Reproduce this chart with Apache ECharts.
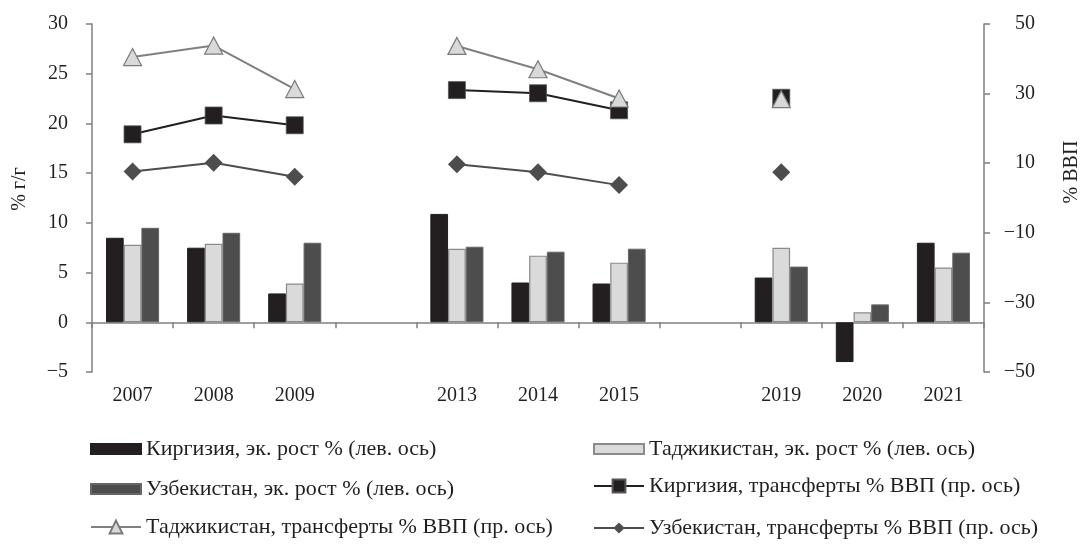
<!DOCTYPE html>
<html>
<head>
<meta charset="utf-8">
<script src="https://cdn.jsdelivr.net/npm/echarts@6/dist/echarts.min.js"></script>
<style>html,body{margin:0;padding:0;background:#fff}#c{width:1087px;height:549px}</style>
</head>
<body>
<div id="c"></div>
<script>
// Categories (empty strings are gaps between periods)
const categories = ['2007', '2008', '2009', '', '2013', '2014', '2015', '', '2019', '2020', '2021'];

// Economic growth, % y/y (left axis)
const kgGrowth = [8.5, 7.5, 2.9, null, 10.9, 4.0, 3.9, null, 4.5, -4.0, 8.0];
const tjGrowth = [7.8, 7.9, 3.9, null, 7.4, 6.7, 6.0, null, 7.5, 1.0, 5.5];
const uzGrowth = [9.5, 9.0, 8.0, null, 7.6, 7.1, 7.4, null, 5.6, 1.8, 7.0];

// Remittances, % of GDP (right axis)
const kgRemit = [18.3, 23.7, 20.9, null, 31.0, 30.1, 25.2, null, 28.8, null, null];
const tjRemit = [40.5, 43.8, 31.3, null, 43.7, 37.0, 28.6, null, 28.4, null, null];
const uzRemit = [7.6, 10.1, 6.1, null, 9.7, 7.4, 3.7, null, 7.4, null, null];

// Series names
const nKgG = 'Киргизия, эк. рост % (лев. ось)';
const nTjG = 'Таджикистан, эк. рост % (лев. ось)';
const nUzG = 'Узбекистан, эк. рост % (лев. ось)';
const nKgR = 'Киргизия, трансферты % ВВП (пр. ось)';
const nTjR = 'Таджикистан, трансферты % ВВП (пр. ось)';
const nUzR = 'Узбекистан, трансферты % ВВП (пр. ось)';

const leftAxisName = '% г/г';
const rightAxisName = '% ВВП';

const FONT = 'Liberation Serif';
const TXT = '#231f20';
const AX = '#808080';
const minus = v => String(v).replace('-', '\u2212');

const chart = echarts.init(document.getElementById('c'));

function leg(name, left, top, h, icon) {
  const l = {
    data: [name], left: left, top: top, orient: 'horizontal', padding: 0,
    itemWidth: 50, itemHeight: h, selectedMode: false,
    textStyle: { fontFamily: FONT, fontSize: 22, color: TXT }
  };
  if (icon) l.icon = icon;
  return l;
}

chart.setOption({
  animation: false,
  textStyle: { fontFamily: FONT, color: TXT },
  grid: { left: 92, right: 103, top: 24, bottom: 177, containLabel: false },
  legend: [
    leg(nKgG, 90, 438, 10, 'rect'),
    leg(nTjG, 593, 438, 10, 'rect'),
    leg(nUzG, 90, 478, 10, 'rect'),
    leg(nKgR, 593, 475, 16),
    leg(nTjR, 90, 516, 16),
    leg(nUzR, 593, 517, 14)
  ],
  graphic: [
    { type: 'text', x: 20, y: 189, rotation: Math.PI / 2,
      style: { text: leftAxisName, font: '20px "Liberation Serif"', fill: TXT, align: 'center', verticalAlign: 'middle' } },
    { type: 'text', x: 1072, y: 172, rotation: Math.PI / 2,
      style: { text: rightAxisName, font: '20px "Liberation Serif"', fill: TXT, align: 'center', verticalAlign: 'middle' } }
  ],
  xAxis: {
    type: 'category', data: categories, boundaryGap: true,
    axisLine: { onZero: true, lineStyle: { color: AX, width: 1.5 } },
    axisTick: { show: true, alignWithLabel: false, interval: 0, length: 6, lineStyle: { color: AX, width: 1.5 } },
    axisLabel: { interval: 0, margin: 14, fontFamily: FONT, fontSize: 20, color: TXT },
    splitLine: { show: false }
  },
  yAxis: [
    {
      type: 'value', min: -5, max: 30, interval: 5, position: 'left',
      axisLine: { show: true, onZero: false, lineStyle: { color: AX, width: 1.5 } },
      axisTick: { show: true, length: 6, lineStyle: { color: AX, width: 1.5 } },
      axisLabel: { margin: 24, fontFamily: FONT, fontSize: 20, color: TXT, formatter: minus },
      splitLine: { show: false }
    },
    {
      type: 'value', min: -50, max: 50, interval: 20, position: 'right',
      axisLine: { show: true, onZero: false, lineStyle: { color: AX, width: 1.5 } },
      axisTick: { show: true, length: 6, lineStyle: { color: AX, width: 1.5 } },
      axisLabel: { margin: 51, align: 'right', fontFamily: FONT, fontSize: 20, color: TXT, formatter: minus },
      splitLine: { show: false }
    }
  ],
  series: [
    { name: nKgG, type: 'bar', data: kgGrowth, barWidth: 17.7, barGap: '0%', yAxisIndex: 0,
      itemStyle: { color: '#231f20', borderColor: '#231f20', borderWidth: 1 } },
    { name: nTjG, type: 'bar', data: tjGrowth, barWidth: 17.7, barGap: '0%', yAxisIndex: 0,
      itemStyle: { color: '#dadada', borderColor: '#8a8a8a', borderWidth: 1.2 } },
    { name: nUzG, type: 'bar', data: uzGrowth, barWidth: 17.7, barGap: '0%', yAxisIndex: 0,
      itemStyle: { color: '#4d4d4d', borderColor: '#666666', borderWidth: 1 } },
    { name: nKgR, type: 'line', data: kgRemit, yAxisIndex: 1, connectNulls: false,
      symbol: 'rect', symbolSize: 17, showSymbol: true,
      lineStyle: { color: '#231f20', width: 2 },
      itemStyle: { color: '#231f20', borderColor: '#555', borderWidth: 0.8 } },
    { name: nUzR, type: 'line', data: uzRemit, yAxisIndex: 1, connectNulls: false,
      symbol: 'diamond', symbolSize: 18, showSymbol: true,
      lineStyle: { color: '#4d4d4d', width: 2 },
      itemStyle: { color: '#4d4d4d' } },
    { name: nTjR, type: 'line', data: tjRemit, yAxisIndex: 1, connectNulls: false,
      symbol: 'triangle', symbolSize: [18, 17], showSymbol: true,
      lineStyle: { color: '#808080', width: 2 },
      itemStyle: { color: '#d9d9d9', borderColor: '#7a7a7a', borderWidth: 1.2 } }
  ]
});
</script>
</body>
</html>
